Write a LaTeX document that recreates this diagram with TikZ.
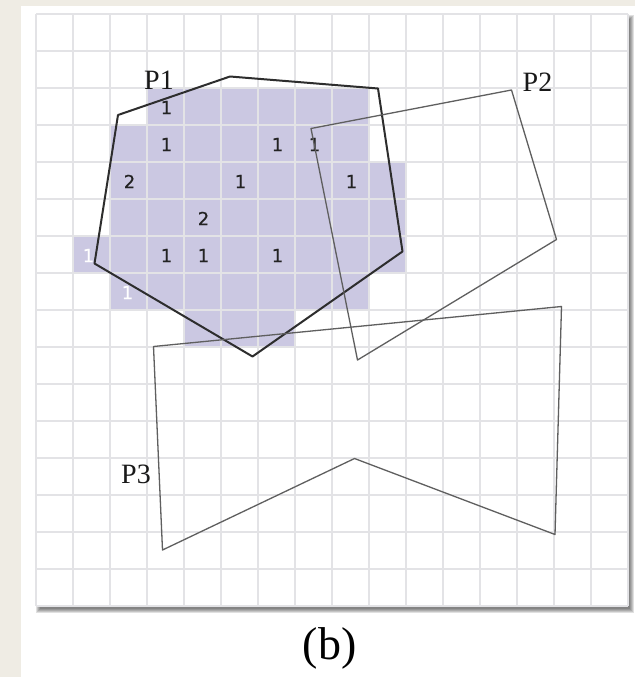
\documentclass[tikz,border=0pt]{standalone}
\usepackage{fontspec}
\setmainfont{Liberation Serif}
\newfontfamily\numfont[FakeBold=0.6]{DejaVu Sans}
\definecolor{bgbeige}{RGB}{239,236,228}
\definecolor{cellfill}{RGB}{203,200,226}
\definecolor{gridcol}{RGB}{227,227,230}
\definecolor{polydark}{RGB}{45,45,45}
\definecolor{polygrey}{RGB}{95,95,95}
\definecolor{numcol}{RGB}{35,35,35}
\tikzset{
  gridline/.style={draw=gridcol, line width=1.8pt},
  numlabel/.style={font=\numfont\fontsize{18}{18}\selectfont, text=numcol, inner sep=0pt},
  numwhite/.style={numlabel, text=white},
  polyone/.style={draw=polydark, line width=2pt, line join=round},
  polyother/.style={draw=polygrey, line width=1.3pt, line join=round},
  plabel/.style={font=\fontsize{28}{28}\selectfont, text=black!90, inner sep=0pt, anchor=base},
  caption/.style={font=\fontsize{46}{46}\selectfont, text=black, inner sep=0pt, anchor=base}
}
\begin{document}
\begin{tikzpicture}[x=1pt,y=-1pt]
\useasboundingbox (0,0) rectangle (635,677);
% page
\fill[bgbeige] (0,0) rectangle (635,677);
\fill[white] (21,6) rectangle (635,677);
% drop shadow of the panel
\foreach \d in {0,...,4} {
  \fill[black, opacity=0.12] ({40-\d},{19-\d}) rectangle ({630+\d},{609+\d});
}
% panel
\fill[white] (36,14) rectangle (628,606);
% shaded cells: row / first col / last col
\foreach \rr/\ca/\cb in {2/3/8,3/2/8,4/2/9,5/2/9,6/1/9,7/2/8,8/4/6} {
  \fill[cellfill] ({36+37*\ca},{14+37*\rr}) rectangle ({36+37*(\cb+1)},{14+37*(\rr+1)});
}
% grid
\foreach \k in {0,...,16} {
  \draw[gridline] ({36+37*\k},14) -- ({36+37*\k},606);
  \draw[gridline] (36,{14+37*\k}) -- (628,{14+37*\k});
}
% numbers
\foreach \cc/\rr/\tt in {3/2/1,3/3/1,6/3/1,7/3/1,2/4/2,5/4/1,8/4/1,4/5/2,3/6/1,4/6/1,6/6/1} {
  \node[numlabel] (n\cc\rr) at ({55.5+37*\cc},{33.5+37*\rr}) {\tt};
}
\node[numwhite] (w16) at ({55.5+37*1-4},{33.5+37*6}) {1};
\node[numwhite] (w27) at ({55.5+37*2-2},{33.5+37*7}) {1};
% polygon P1
\coordinate (p1a) at (118,115);
\coordinate (p1b) at (230,76.5);
\coordinate (p1c) at (378,88.5);
\coordinate (p1d) at (402.5,251.5);
\coordinate (p1e) at (252.5,356.5);
\coordinate (p1f) at (94.5,263.5);
\draw[polyone] (p1a) -- (p1b) -- (p1c) -- (p1d) -- (p1e) -- (p1f) -- cycle;
% polygon P2
\coordinate (p2a) at (311,128.5);
\coordinate (p2b) at (511.5,90);
\coordinate (p2c) at (556.5,239.5);
\coordinate (p2d) at (357.5,360);
\draw[polyother] (p2a) -- (p2b) -- (p2c) -- (p2d) -- cycle;
% polygon P3
\coordinate (p3a) at (153.5,346.5);
\coordinate (p3b) at (561.5,306.5);
\coordinate (p3c) at (555,534.5);
\coordinate (p3d) at (354.5,458.5);
\coordinate (p3e) at (162.5,550);
\draw[polyother] (p3a) -- (p3b) -- (p3c) -- (p3d) -- (p3e) -- cycle;
% labels
\node[plabel] (lp1) at (159,89) {P1};
\node[plabel] (lp2) at (537.5,91) {P2};
\node[plabel] (lp3) at (136,483) {P3};
\node[caption] (cap) at (329.5,659) {(b)};
\end{tikzpicture}
\end{document}
